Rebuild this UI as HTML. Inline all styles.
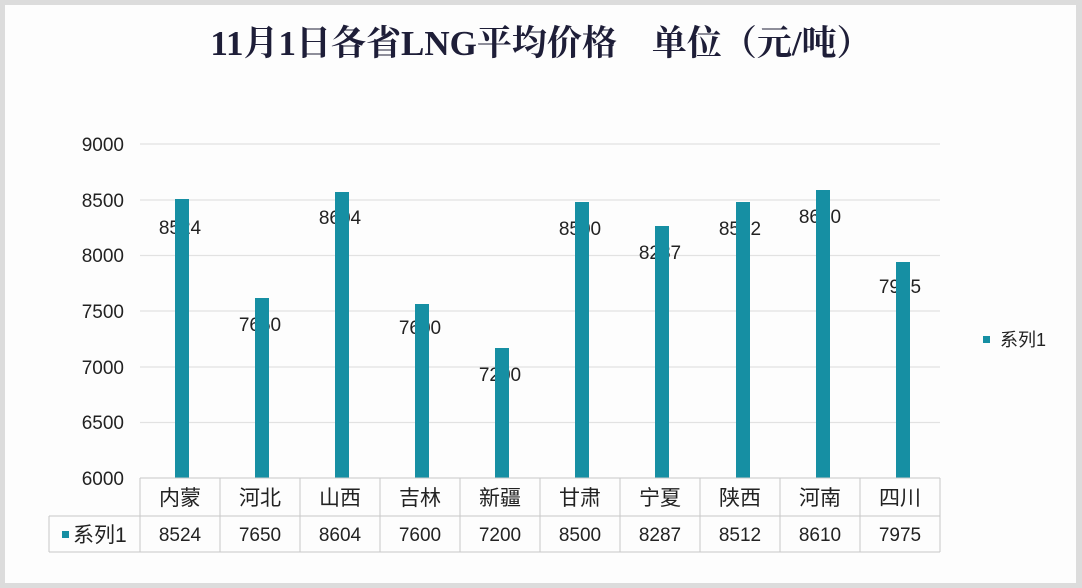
<!DOCTYPE html>
<html><head><meta charset="utf-8"><style>
html,body{margin:0;padding:0;background:#fff;}
svg{display:block;}
</style></head><body>
<svg width="1082" height="588" xmlns="http://www.w3.org/2000/svg" font-family="'Liberation Sans','Noto Sans CJK SC',sans-serif">
<rect x="0" y="0" width="1082" height="588" fill="#dcdcdc"/>
<rect x="5" y="5" width="1071" height="578" fill="#fdfdfd"/>
<text x="541" y="55" text-anchor="middle" font-family="'Liberation Serif','Noto Serif CJK SC',serif" font-weight="bold" font-size="35" fill="#1e1e38">11月1日各省LNG平均价格　单位（元/吨）</text>
<g stroke="#e2e2e2" stroke-width="1.2">
<line x1="140" y1="144" x2="940" y2="144"/>
<line x1="140" y1="200" x2="940" y2="200"/>
<line x1="140" y1="255.5" x2="940" y2="255.5"/>
<line x1="140" y1="311" x2="940" y2="311"/>
<line x1="140" y1="367" x2="940" y2="367"/>
<line x1="140" y1="422.5" x2="940" y2="422.5"/>
</g>
<g font-size="19" fill="#222" text-anchor="end">
<text x="124" y="151">9000</text>
<text x="124" y="207">8500</text>
<text x="124" y="262">8000</text>
<text x="124" y="318">7500</text>
<text x="124" y="374">7000</text>
<text x="124" y="429">6500</text>
<text x="124" y="485">6000</text>
</g>
<g font-size="19" fill="#222" text-anchor="middle">
<text x="180" y="234">8524</text>
<text x="260" y="331">7650</text>
<text x="340" y="224">8604</text>
<text x="420" y="334">7600</text>
<text x="500" y="381">7200</text>
<text x="580" y="235">8500</text>
<text x="660" y="259">8287</text>
<text x="740" y="235">8512</text>
<text x="820" y="223">8610</text>
<text x="900" y="293">7975</text>
</g>
<g fill="#168fa3">
<rect x="175" y="199" width="14" height="279"/>
<rect x="255" y="298" width="14" height="180"/>
<rect x="335" y="192" width="14" height="286"/>
<rect x="415" y="304" width="14" height="174"/>
<rect x="495" y="348" width="14" height="130"/>
<rect x="575" y="202" width="14" height="276"/>
<rect x="655" y="226" width="14" height="252"/>
<rect x="736" y="202" width="14" height="276"/>
<rect x="816" y="190" width="14" height="288"/>
<rect x="896" y="262" width="14" height="216"/>
</g>
<g stroke="#c8c8c8" stroke-width="1" fill="none">
<line x1="140" y1="478" x2="940" y2="478"/>
<line x1="49" y1="516" x2="940" y2="516"/>
<line x1="49" y1="552" x2="940" y2="552"/>
<line x1="49" y1="516" x2="49" y2="552"/>
<line x1="140" y1="478" x2="140" y2="552"/>
<line x1="220" y1="478" x2="220" y2="552"/>
<line x1="300" y1="478" x2="300" y2="552"/>
<line x1="380" y1="478" x2="380" y2="552"/>
<line x1="460" y1="478" x2="460" y2="552"/>
<line x1="540" y1="478" x2="540" y2="552"/>
<line x1="620" y1="478" x2="620" y2="552"/>
<line x1="700" y1="478" x2="700" y2="552"/>
<line x1="780" y1="478" x2="780" y2="552"/>
<line x1="860" y1="478" x2="860" y2="552"/>
<line x1="940" y1="478" x2="940" y2="552"/>
</g>
<g font-size="21" fill="#222" text-anchor="middle">
<text x="180" y="505">内蒙</text><text x="260" y="505">河北</text><text x="340" y="505">山西</text><text x="420" y="505">吉林</text><text x="500" y="505">新疆</text><text x="580" y="505">甘肃</text><text x="660" y="505">宁夏</text><text x="740" y="505">陕西</text><text x="820" y="505">河南</text><text x="900" y="505">四川</text>
</g>
<g font-size="19" fill="#222" text-anchor="middle">
<text x="180" y="541">8524</text><text x="260" y="541">7650</text><text x="340" y="541">8604</text><text x="420" y="541">7600</text><text x="500" y="541">7200</text><text x="580" y="541">8500</text><text x="660" y="541">8287</text><text x="740" y="541">8512</text><text x="820" y="541">8610</text><text x="900" y="541">7975</text>
</g>
<rect x="62" y="531" width="7" height="7" fill="#168fa3"/>
<text x="73" y="542" font-size="21" fill="#222">系列1</text>
<rect x="983" y="336" width="7" height="7" fill="#168fa3"/>
<text x="1000" y="346" font-size="18" fill="#222">系列1</text>
</svg>
</body></html>
